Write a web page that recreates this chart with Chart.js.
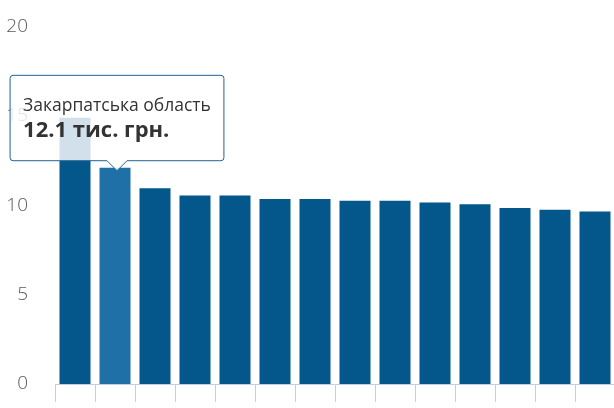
<!DOCTYPE html>
<html>
<head>
<meta charset="utf-8">
<script src="https://cdn.jsdelivr.net/npm/chart.js@4/dist/chart.umd.min.js"></script>
<style>
  html, body { margin: 0; padding: 0; background: #fff; overflow: hidden; }
  #wrap { width: 616px; height: 408px; position: relative; }
</style>
</head>
<body>
<div id="wrap"><canvas id="c"></canvas></div>
<script>
const categories = [
  "м. Київ", "Закарпатська область", "Київська область", "Дніпропетровська область",
  "Донецька область", "Запорізька область", "Харківська область", "Одеська область",
  "Львівська область", "Миколаївська область", "Полтавська область", "Івано-Франківська область",
  "Вінницька область", "Волинська область"
];
const values = [14.9, 12.1, 10.95, 10.55, 10.55, 10.35, 10.35, 10.25, 10.25, 10.15, 10.05, 9.85, 9.75, 9.65];
const unit = "тис. грн.";
const yTicks = [0, 5, 10, 15, 20];
const activeIndex = 1;

Chart.Tooltip.positioners.barTop = function (elements) {
  if (!elements.length) return false;
  const e = elements[0].element;
  return { x: e.x + 2, y: e.y + 3 };
};

const chart = new Chart(document.getElementById('c'), {
  type: 'bar',
  data: {
    labels: categories,
    datasets: [{
      data: values,
      backgroundColor: '#03578a',
      hoverBackgroundColor: '#1f70a6',
      borderWidth: 0,
      barPercentage: 0.775,
      categoryPercentage: 1.0
    }]
  },
  options: {
    responsive: true,
    maintainAspectRatio: false,
    animation: false,
    events: [],
    layout: { padding: { top: 26.5, right: 1, bottom: 6, left: 0 } },
    plugins: {
      legend: { display: false },
      tooltip: {
        enabled: true,
        position: 'barTop',
        backgroundColor: 'rgba(255,255,255,0.82)',
        borderColor: '#1f6396',
        borderWidth: 1,
        cornerRadius: 3,
        caretSize: 10,
        caretPadding: 0,
        xAlign: 'center',
        yAlign: 'bottom',
        displayColors: false,
        titleColor: '#333333',
        bodyColor: '#333333',
        titleFont: { family: 'Open Sans', size: 17.5, weight: 'normal' },
        bodyFont: { family: 'Open Sans', size: 22, weight: 'bold' },
        titleMarginBottom: 1,
        padding: { top: 20, bottom: 17, left: 13, right: 13 },
        callbacks: {
          title: (items) => categories[items[0].dataIndex],
          label: (item) => values[item.dataIndex] + ' ' + unit
        }
      }
    },
    scales: {
      x: {
        afterFit: (scale) => { scale.height = 18; scale.paddingLeft = 0; scale.paddingRight = 0; },
        grid: {
          display: true,
          offset: true,
          drawOnChartArea: false,
          drawTicks: true,
          tickLength: 18,
          color: '#c0d0e0',
          lineWidth: 1
        },
        border: { display: true, color: '#c0d0e0', width: 1 },
        ticks: { display: false }
      },
      y: {
        min: 0,
        max: 20,
        afterBuildTicks: (scale) => { scale.ticks = yTicks.map(v => ({ value: v })); },
        afterFit: (scale) => { scale.width = 55; scale.paddingTop = 0; scale.paddingBottom = 0; },
        grid: { display: false, drawTicks: false },
        border: { display: false },
        ticks: {
          padding: 27,
          color: '#5a5a5a',
          font: { family: 'Open Sans', size: 19, weight: '300' }
        }
      }
    }
  }
});

chart.setActiveElements([{ datasetIndex: 0, index: activeIndex }]);
const meta = chart.getDatasetMeta(0);
const el = meta.data[activeIndex];
chart.tooltip.setActiveElements([{ datasetIndex: 0, index: activeIndex }], { x: el.x, y: el.y });
chart.update('none');
</script>
</body>
</html>
